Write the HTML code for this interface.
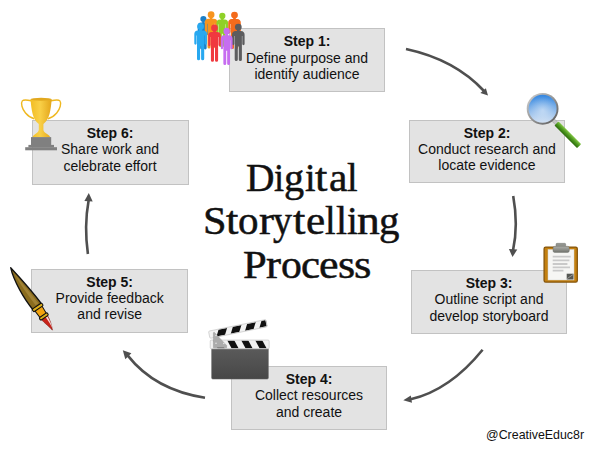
<!DOCTYPE html>
<html><head><meta charset="utf-8">
<style>
html,body{margin:0;padding:0;}
body{width:600px;height:450px;background:#fff;position:relative;overflow:hidden;font-family:"Liberation Sans",sans-serif;}
.box{position:absolute;background:#e3e3e3;border:1px solid #c2c2c2;box-sizing:border-box;text-align:center;font-size:14px;line-height:16.3px;color:#111;}
.box b{font-weight:bold;}
.box .t{position:absolute;left:0;right:0;top:4px;white-space:nowrap;}
.g{position:absolute;font-family:"Liberation Serif",serif;font-size:39.4px;line-height:43.5px;color:#111;-webkit-text-stroke:0.5px #111;transform-origin:0 0;white-space:nowrap;}
svg{position:absolute;left:0;top:0;}
.credit{position:absolute;left:486.1px;top:428.4px;font-size:12.4px;color:#111;white-space:nowrap;}
</style></head><body>
<div class="box" id="b1" style="left:229px;top:28px;width:156px;height:64px;"><div class="t" style="top:4.4px"><b>Step 1:</b><br>Define purpose and<br>identify audience</div></div>
<div class="box" id="b2" style="left:409px;top:120px;width:156px;height:63px;"><div class="t" style="top:3.5px"><b>Step 2:</b><br>Conduct research and<br>locate evidence</div></div>
<div class="box" id="b3" style="left:411px;top:270px;width:156px;height:64px;"><div class="t"><b>Step 3:</b><br>Outline script and<br>develop storyboard</div></div>
<div class="box" id="b4" style="left:231px;top:366px;width:156px;height:64px;"><div class="t"><b>Step 4:</b><br>Collect resources<br>and create</div></div>
<div class="box" id="b5" style="left:31px;top:268.7px;width:157.3px;height:64px;"><div class="t"><b>Step 5:</b><br>Provide feedback<br>and revise</div></div>
<div class="box" id="b6" style="left:31.5px;top:120px;width:157px;height:65px;"><div class="t"><b>Step 6:</b><br>Share work and<br>celebrate effort</div></div>

<div id="title">
<span class="g" style="left:246.00px;top:156.6px;transform:scaleX(1.000)">D</span>
<span class="g" style="left:274.42px;top:156.6px;transform:scaleX(0.923)">i</span>
<span class="g" style="left:284.47px;top:156.6px;transform:scaleX(1.021)">g</span>
<span class="g" style="left:304.70px;top:156.6px;transform:scaleX(0.964)">i</span>
<span class="g" style="left:315.02px;top:156.6px;transform:scaleX(1.129)">t</span>
<span class="g" style="left:328.69px;top:156.6px;transform:scaleX(1.052)">a</span>
<span class="g" style="left:347.40px;top:156.6px;transform:scaleX(0.966)">l</span>
<span class="g" style="left:202.91px;top:200.2px;transform:scaleX(1.074)">S</span>
<span class="g" style="left:225.72px;top:200.2px;transform:scaleX(1.129)">t</span>
<span class="g" style="left:238.17px;top:200.2px;transform:scaleX(1.041)">o</span>
<span class="g" style="left:258.59px;top:200.2px;transform:scaleX(1.143)">r</span>
<span class="g" style="left:272.64px;top:200.2px;transform:scaleX(0.965)">y</span>
<span class="g" style="left:292.72px;top:200.2px;transform:scaleX(1.129)">t</span>
<span class="g" style="left:305.89px;top:200.2px;transform:scaleX(1.096)">e</span>
<span class="g" style="left:325.10px;top:200.2px;transform:scaleX(0.966)">l</span>
<span class="g" style="left:335.67px;top:200.2px;transform:scaleX(1.008)">l</span>
<span class="g" style="left:346.78px;top:200.2px;transform:scaleX(0.985)">i</span>
<span class="g" style="left:357.43px;top:200.2px;transform:scaleX(1.157)">n</span>
<span class="g" style="left:379.44px;top:200.2px;transform:scaleX(1.038)">g</span>
<span class="g" style="left:243.12px;top:243.5px;transform:scaleX(1.082)">P</span>
<span class="g" style="left:265.99px;top:243.5px;transform:scaleX(1.143)">r</span>
<span class="g" style="left:280.54px;top:243.5px;transform:scaleX(1.059)">o</span>
<span class="g" style="left:300.91px;top:243.5px;transform:scaleX(1.087)">c</span>
<span class="g" style="left:319.17px;top:243.5px;transform:scaleX(1.116)">e</span>
<span class="g" style="left:337.62px;top:243.5px;transform:scaleX(1.120)">s</span>
<span class="g" style="left:353.60px;top:243.5px;transform:scaleX(1.136)">s</span>
</div>

<svg width="600" height="450" viewBox="0 0 600 450">
<defs>
<path id="pb" d="M-2.6,4.0 h5.2 C5.2,4.2 6.3,5.6 6.3,7.6 v9.4 a1.15,1.15 0 0 1 -2.3,0 v-8 h-0.4 v23.3 a1.55,1.55 0 0 1 -3.1,0 v-12.8 h-1 v12.8 a1.55,1.55 0 0 1 -3.1,0 v-23.3 h-0.4 v8 a1.15,1.15 0 0 1 -2.3,0 v-9.4 C-6.3,5.6 -5.2,4.2 -2.6,4.0 z M-1.3,2.6 h2.6 v2 h-2.6 z"/>
<g id="person"><circle cx="0" cy="0" r="3.4"/><use href="#pb"/></g>
<linearGradient id="glass" x1="0" y1="0" x2="0" y2="1">
<stop offset="0" stop-color="#3386e0"/><stop offset="0.45" stop-color="#79aee8"/><stop offset="1" stop-color="#cfdff2"/>
</linearGradient>
<radialGradient id="glow" cx="0.5" cy="0.55" r="0.5">
<stop offset="0" stop-color="#ffffff" stop-opacity="0.45"/><stop offset="1" stop-color="#ffffff" stop-opacity="0"/>
</radialGradient>
<linearGradient id="rim" x1="0" y1="0" x2="1" y2="1">
<stop offset="0" stop-color="#d4d4d4"/><stop offset="0.5" stop-color="#959595"/><stop offset="1" stop-color="#555555"/>
</linearGradient>
<linearGradient id="hand" x1="0" y1="0" x2="0" y2="1">
<stop offset="0" stop-color="#86c84a"/><stop offset="0.45" stop-color="#4f9a1f"/><stop offset="1" stop-color="#2c6a0c"/>
</linearGradient>
<linearGradient id="cup" x1="0" y1="0" x2="1" y2="0">
<stop offset="0" stop-color="#f2bd24"/><stop offset="0.45" stop-color="#f9d047"/><stop offset="1" stop-color="#e3a51a"/>
</linearGradient>
<linearGradient id="slate" x1="0" y1="0" x2="0" y2="1">
<stop offset="0" stop-color="#5b5b5b"/><stop offset="1" stop-color="#474747"/>
</linearGradient>
<linearGradient id="clipg" x1="0" y1="0" x2="0" y2="1">
<stop offset="0" stop-color="#adaea9"/><stop offset="1" stop-color="#73756f"/>
</linearGradient>
<clipPath id="barclipL"><rect x="0" y="0" width="59" height="8.8" rx="1.2"/></clipPath>
<clipPath id="barclipU"><rect x="0" y="-3.7" width="58.6" height="7.4" rx="1.2"/></clipPath>
</defs>

<!-- arrows -->
<g fill="none" stroke="#4f4f4f" stroke-width="2.6" stroke-linecap="butt">
<path d="M406 49 Q455 59.6 484 91"/>
<path d="M513.2 196 Q518.5 225 513 250.5"/>
<path d="M482.6 349.7 Q450 390 410.6 399.3"/>
<path d="M205 397.7 Q155 390 127.8 355.6"/>
<path d="M87.9 254 Q84 226 88.6 200.5"/>
</g>
<g fill="#4f4f4f" stroke="none">
<path d="M488.0 95.6 L480.4 92.9 L485.9 88.2 Z"/>
<path d="M512.5 257.0 L508.9 249.0 L517.3 249.6 Z"/>
<path d="M403.3 400.3 L410.8 395.5 L412.0 402.8 Z"/>
<path d="M122.8 350.2 L131.4 353.3 L125.3 359.3 Z"/>
<path d="M88.8 193.0 L84.4 201.0 L92.7 201.4 Z"/>
</g>

<!-- people -->
<g id="people">
<use href="#person" transform="translate(203.4,19) scale(0.9)" fill="#1c7fc6"/>
<use href="#person" transform="translate(211.1,14.7)" fill="#f7941d"/>
<use href="#person" transform="translate(222.3,15.9) scale(0.92)" fill="#8fd128"/>
<use href="#person" transform="translate(234.5,15.1)" fill="#f46b1c"/>
<use href="#person" transform="translate(200.6,26.5)" fill="#27a8f0"/>
<use href="#person" transform="translate(214.5,28)" fill="#f0393f"/>
<use href="#person" transform="translate(238.3,27.1)" fill="#5c5c5e"/>
<use href="#person" transform="translate(226.7,31.2) scale(0.93,1)" fill="#c66df0"/>
</g>

<!-- magnifier -->
<g id="mag">
<g transform="translate(542.6,108.8) rotate(45)">
<rect x="14.5" y="-1.2" width="7" height="3.4" fill="#c4c4c4" stroke="#8a8a8a" stroke-width="0.4"/>
<rect x="20.2" y="-2.3" width="32" height="5.8" rx="0.8" fill="url(#hand)"/>
</g>
<circle cx="542.6" cy="108.8" r="15.9" fill="url(#rim)"/>
<circle cx="542.6" cy="108.8" r="14" fill="url(#glass)"/>
<circle cx="542.6" cy="108.8" r="14" fill="url(#glow)"/>
</g>

<!-- clipboard -->
<g id="clipboard">
<rect x="544.1" y="247.1" width="33.2" height="35" rx="1.6" fill="#c4800f" stroke="#85540a" stroke-width="1.3"/>
<rect x="548" y="249.5" width="26" height="30.5" fill="#f6f6f4" stroke="#d4d4d0" stroke-width="0.5"/>
<g stroke="#c9c9c9" stroke-width="1.8">
<path d="M552.7 256.7 H570.7 M552.7 260.4 H569.4 M552.7 264 H567.4 M552.7 267.3 H570 M552.7 270.7 H563.4"/>
</g>
<path d="M566.7 273.7 H573.5 V279.5 H566.7 Z" fill="#555753"/>
<path d="M567.2 278.6 L573 274.6" stroke="#aaa" stroke-width="0.8"/>
<rect x="556" y="243.3" width="9.7" height="5" rx="1" fill="#92948f" stroke="#6a6c67" stroke-width="0.4"/>
<rect x="553" y="246.3" width="16.3" height="6.1" rx="1.6" fill="url(#clipg)" stroke="#666863" stroke-width="0.4"/>
</g>

<!-- clapperboard -->
<g id="clap">
<rect x="211.6" y="347.5" width="56.8" height="31.6" rx="1.3" fill="url(#slate)" stroke="#6a6a6a" stroke-width="0.5"/>
<g transform="translate(210.2,340)">
<g clip-path="url(#barclipL)">
<rect x="0" y="0" width="59" height="8.8" fill="#f2f2f2"/>
<g fill="#111">
<path d="M2.9,0 h7 l4.7,8.8 h-7 z"/><path d="M16.9,0 h7 l4.7,8.8 h-7 z"/><path d="M30.9,0 h7 l4.7,8.8 h-7 z"/><path d="M44.9,0 h7 l4.7,8.8 h-7 z"/>
</g>
<rect x="0" y="0" width="59" height="8.8" rx="1.2" fill="none" stroke="#ededed" stroke-width="1.3"/>
</g>
<rect x="0" y="0" width="59" height="8.8" rx="1.2" fill="none" stroke="#c4c4c4" stroke-width="0.6"/>
</g>
<g transform="translate(209.2,334.8) rotate(-11.5)">
<g clip-path="url(#barclipU)">
<rect x="0" y="-3.7" width="58.6" height="7.4" fill="#f2f2f2"/>
<g fill="#111">
<path d="M10.5,-3.7 h8.7 l-4,7.4 h-8.7 z"/><path d="M25.1,-3.7 h8.7 l-4,7.4 h-8.7 z"/><path d="M39.7,-3.7 h8.7 l-4,7.4 h-8.7 z"/><path d="M54.3,-3.7 h8.7 l-4,7.4 h-8.7 z"/>
</g>
<rect x="0" y="-3.7" width="58.6" height="7.4" rx="1.2" fill="none" stroke="#ededed" stroke-width="1.3"/>
</g>
<rect x="0" y="-3.7" width="58.6" height="7.4" rx="1.2" fill="none" stroke="#c4c4c4" stroke-width="0.6"/>
</g>
<path d="M214.2 332.2 Q213.4 332.2 213.4 333 L213.4 347.8 L226.6 347.8 L226.6 345.4 Z" fill="#ababab" stroke="#8c8c8c" stroke-width="0.4" stroke-linejoin="round"/>
<circle cx="216" cy="335.6" r="0.75" fill="#e8e8e8"/><circle cx="216" cy="343.2" r="0.75" fill="#e8e8e8"/><circle cx="223.8" cy="343.4" r="0.75" fill="#e8e8e8"/>
</g>

<!-- pen -->
<g id="pen" transform="translate(10.7,267.7) rotate(55.8)">
<path d="M0,0 C10,-1.5 30,-4.5 47,-5.2 L47,5.2 C34,6.5 12,5 0,0 Z" fill="#8a6c1e" stroke="#111" stroke-width="1.3" stroke-linejoin="round"/>
<path d="M8,0.2 C18,-0.8 34,-2.6 45,-2.8 L45,0.4 C34,1 18,1.6 8,0.2 Z" fill="#a8893c" opacity="0.75"/>
<path d="M60,-3.6 C65,-3.4 71,-1.4 75.1,0.6 C71,0.9 65,3.3 60,3.8 Z" fill="#c8231a" stroke="#7a1510" stroke-width="0.5"/>
<path d="M61,-2.9 C65,-2.9 70,-1.7 73,-0.6 C69,-1.1 65,-1.3 61,-1.1 Z" fill="#fff" opacity="0.85"/>
<path d="M49,-4.3 L58,-3.8 L58,3.8 L49,4.3 Z" fill="#f2a30f" stroke="#111" stroke-width="1"/>
<rect x="46.4" y="-5.8" width="3.2" height="11.6" rx="1.2" fill="#dcae18" stroke="#111" stroke-width="1.1"/>
<rect x="57.4" y="-4.8" width="3" height="9.6" rx="1.2" fill="#dcae18" stroke="#111" stroke-width="1.1"/>
</g>

<!-- trophy -->
<g id="trophy">
<path d="M31.2 100.8 C27 99.9 23.5 99.6 22.3 100.9 C20.6 103 22 109 25.5 113 C28 116 31 117.8 34.3 118.7" fill="none" stroke="#efb820" stroke-width="1.4"/>
<path d="M51 100.8 C55.2 99.9 58.7 99.6 59.9 100.9 C61.6 103 60.2 109 56.7 113 C54.2 116 51.2 117.8 47.9 118.7" fill="none" stroke="#efb820" stroke-width="1.4"/>
<path d="M30.5 99.3 C31.5 110 32.5 119.5 38.8 124 L38.8 130 C38 133.5 33.5 134 32.6 137.2 L50.1 137.2 C49.2 134 44.2 133.5 43.4 130 L43.4 124 C49.7 119.5 50.7 110 51.7 99.3 Z" fill="url(#cup)"/>
<ellipse cx="41.1" cy="99.3" rx="10.6" ry="1.5" fill="#e2a81e"/>
<rect x="31" y="137.1" width="20.2" height="8" fill="#808080"/>
<rect x="28.4" y="144.9" width="25.6" height="2.5" fill="#808080"/>
<rect x="25.2" y="147.2" width="31.8" height="3.1" fill="#808080"/>
</g>
</svg>
<div class="credit">@CreativeEduc8r</div>
</body></html>
